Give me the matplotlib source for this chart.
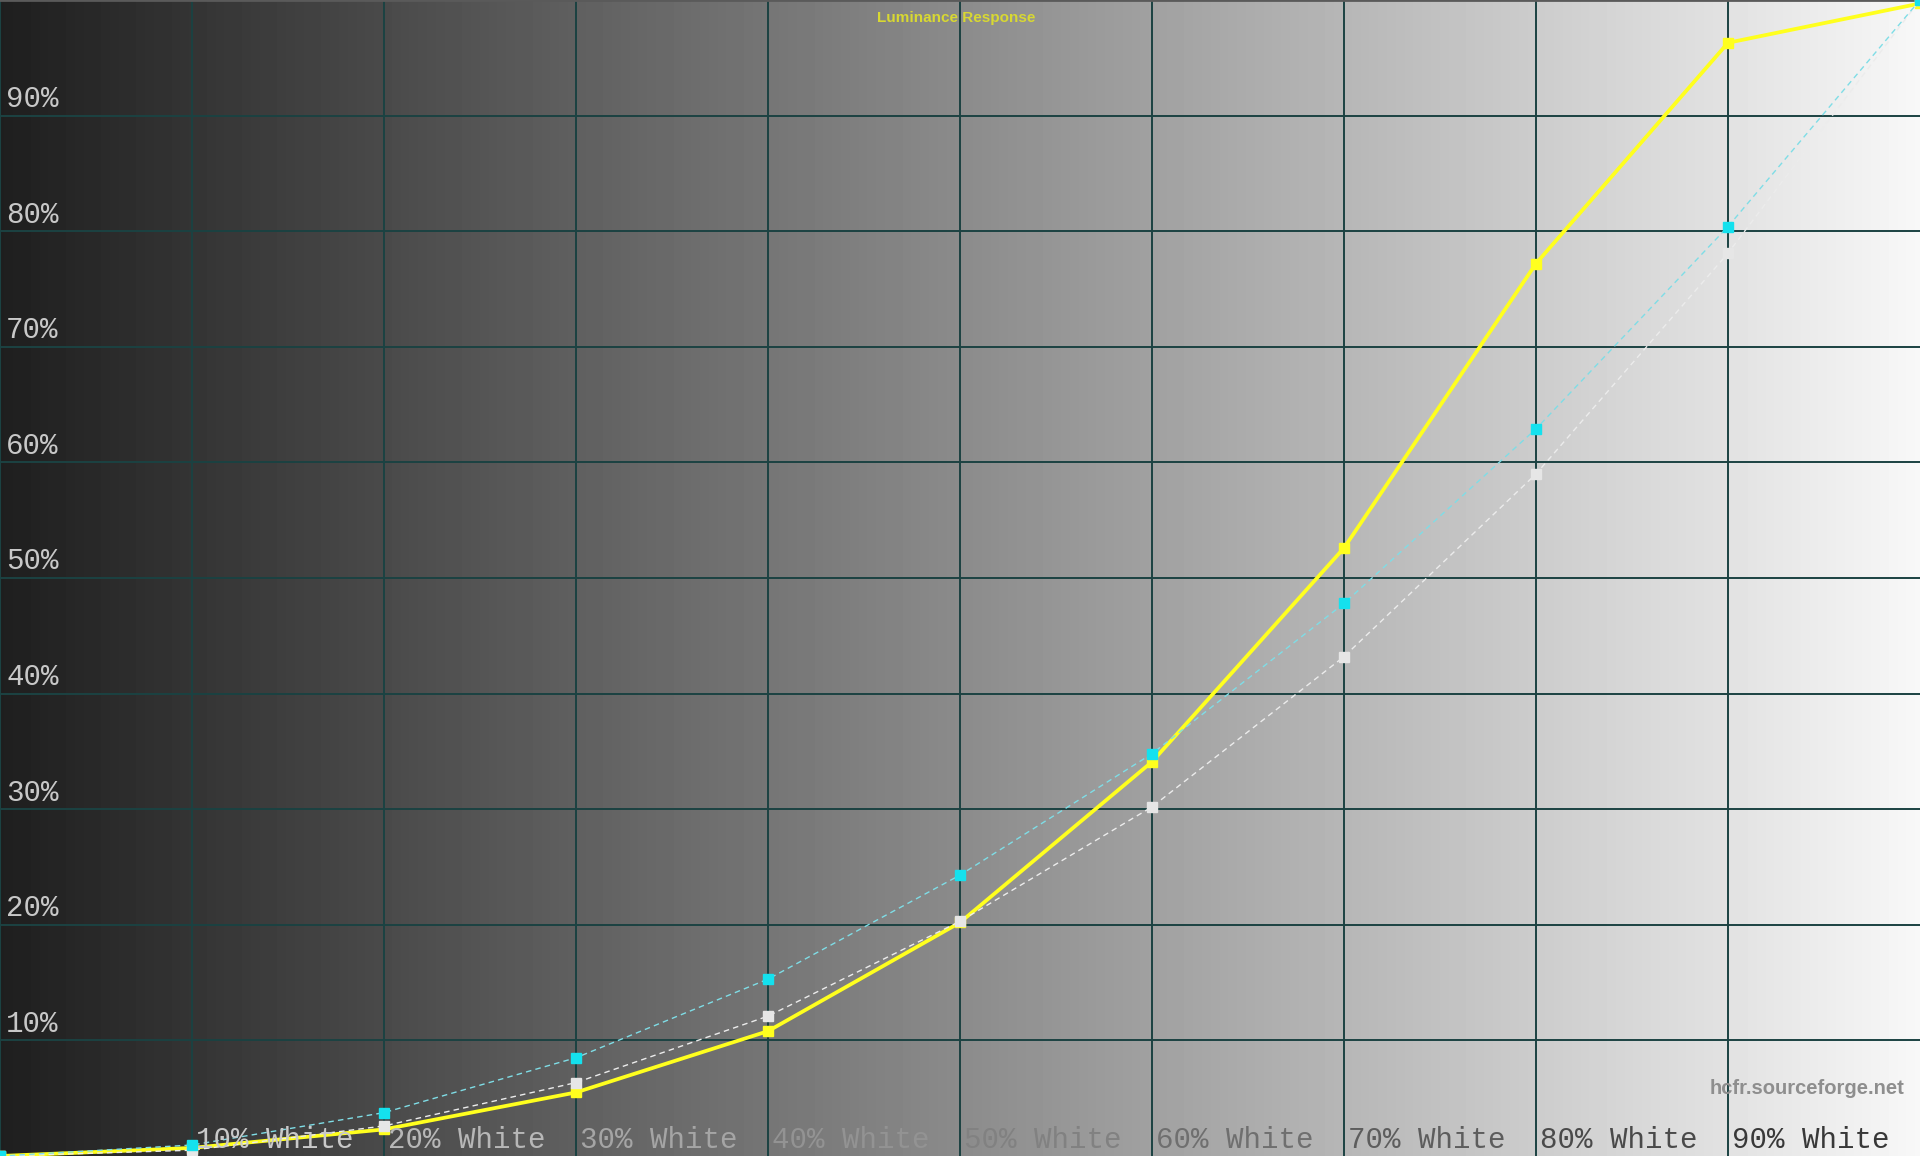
import numpy as np
import matplotlib
matplotlib.use("Agg")
import matplotlib.pyplot as plt

# % white levels and measured / reference luminance (%)
levels = [0, 10, 20, 30, 40, 50, 60, 70, 80, 90, 100]
measured = [0, 0.7, 2.3, 5.5, 10.8, 20.2, 34.1, 52.6, 77.2, 96.3, 99.7]
ref_cyan = [0, 0.95, 3.75, 8.5, 15.3, 24.3, 34.8, 47.8, 62.9, 80.4, 100]
ref_white = [0, 0.5, 2.6, 6.35, 12.1, 20.3, 30.2, 43.2, 59.0, 78.1, 100]

y_ticks = [10, 20, 30, 40, 50, 60, 70, 80, 90]
x_labels = ["10% White", "20% White", "30% White", "40% White", "50% White",
            "60% White", "70% White", "80% White", "90% White"]

fig = plt.figure(figsize=(19.2, 11.56), dpi=100)
ax = fig.add_axes([0, 0, 1, 1])
ax.set_xlim(0, 100)
ax.set_ylim(0, 100)

# grey ramp background, dark on the left to almost white on the right
ramp = np.linspace(0.12, 0.97, 512).reshape(1, -1)
ax.imshow(ramp, extent=[0, 100, 0, 100], aspect="auto", cmap="gray",
          vmin=0, vmax=1, zorder=0, interpolation="bilinear")

grid_col = "#1b4242"
for v in range(10, 100, 10):
    ax.axvline(v, color=grid_col, lw=1.4, zorder=1)
    ax.axhline(v, color=grid_col, lw=1.4, zorder=1)

ax.plot(levels, measured, color="#ffff1e", lw=2.7, marker="s", ms=7,
        mec="#ffff1e", zorder=3)
ax.plot(levels, ref_white, color="#ececec", lw=1.0, ls=(0, (4, 3)),
        marker="s", ms=7, mfc="#e6e6e6", mec="#e6e6e6", zorder=4)
ax.plot(levels, ref_cyan, color="#7fdde6", lw=1.0, ls=(0, (4, 3)),
        marker="s", ms=7, mfc="#14e1ee", mec="#14e1ee", zorder=5)

for v in y_ticks:
    ax.text(0.32, v + 0.75, f"{v}%", family="Liberation Mono", fontsize=21,
            color="#c8c8c8", va="baseline", ha="left", zorder=6)

for i, lab in enumerate(x_labels):
    x = (i + 1) * 10
    g = 0.86 - 0.0071 * x
    ax.text(x + 0.2, 0.7, lab, family="Liberation Mono", fontsize=21,
            color=(g, g, g), va="baseline", ha="left", zorder=6)

ax.text(49.8, 98.4, "Luminance Response", family="Liberation Sans",
        fontweight="bold", fontsize=11, color="#d8d832", ha="center",
        va="center", zorder=6)
ax.text(99.2, 5.8, "hcfr.sourceforge.net", family="Liberation Sans",
        fontweight="bold", fontsize=14.5, color="#8e8e8e", ha="right",
        va="center", zorder=6)

ax.set_xticks([])
ax.set_yticks([])
for side in ["right", "bottom"]:
    ax.spines[side].set_visible(False)
ax.spines["top"].set_color("#5a5a5a")
ax.spines["top"].set_linewidth(2)
ax.spines["left"].set_color(grid_col)
ax.spines["left"].set_linewidth(1.5)

fig.savefig("out.png", dpi=100)
